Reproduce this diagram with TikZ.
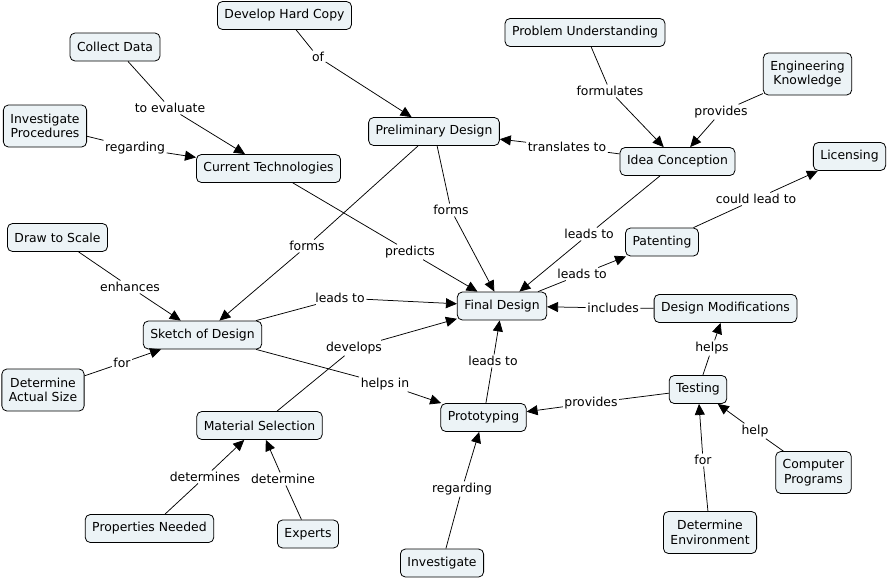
\documentclass[tikz,border=0pt]{standalone}
\usepackage{fontspec}
\setmainfont{DejaVu Sans}
\usetikzlibrary{arrows.meta}
\definecolor{boxfill}{RGB}{236,243,246}
\begin{document}
\begin{tikzpicture}[x=1pt,y=-1pt,
  concept/.style={draw=black, line width=0.8pt, fill=boxfill, rounded corners=5pt,
    inner xsep=7pt, inner ysep=2pt, minimum height=28pt, align=center,
    font=\fontsize{12.4}{14.5}\selectfont},
  twoline/.style={minimum height=42pt},
  lbl/.style={inner sep=1.5pt, font=\fontsize{12.4}{14.5}\selectfont},
  link/.style={draw=black, line width=0.75pt},
  arr/.style={link, -{Triangle[length=11pt,width=10pt]}}]
\useasboundingbox (0,0) rectangle (888,579);

% concepts
\node[concept] (dhc) at (284.5,15.5) {Develop Hard Copy};
\node[concept] (cd) at (115,47) {Collect Data};
\node[concept,twoline] (ip) at (45,126) {Investigate\\Procedures};
\node[concept] (ct) at (268.5,168.5) {Current Technologies};
\node[concept] (pd) at (434,131.5) {Preliminary Design};
\node[concept] (pu) at (585,32.5) {Problem Understanding};
\node[concept,twoline] (ek) at (807.5,74) {Engineering\\Knowledge};
\node[concept] (ic) at (677.5,161.5) {Idea Conception};
\node[concept] (lic) at (849.5,156.5) {Licensing};
\node[concept] (pat) at (662,242) {Patenting};
\node[concept] (fd) at (502,306) {Final Design};
\node[concept] (dm) at (725.5,308.5) {Design Modifications};
\node[concept] (test) at (698,389.5) {Testing};
\node[concept] (proto) at (483.5,417.5) {Prototyping};
\node[concept] (inv) at (442,563) {Investigate};
\node[concept,twoline] (cp) at (813.5,472.5) {Computer\\Programs};
\node[concept,twoline] (de) at (710,532.5) {Determine\\Environment};
\node[concept] (ms) at (259.5,425.5) {Material Selection};
\node[concept] (pn) at (149.5,528.5) {Properties Needed};
\node[concept] (exp) at (308,534) {Experts};
\node[concept] (dts) at (57.5,237.5) {Draw to Scale};
\node[concept] (sod) at (202.5,335) {Sketch of Design};
\node[concept,twoline] (das) at (43,390) {Determine\\Actual Size};

% linking phrases
\node[lbl] (l1) at (318,57) {of};
\node[lbl] (l2) at (170,108) {to evaluate};
\node[lbl] (l3) at (135,148) {regarding};
\node[lbl] (l4) at (610,91) {formulates};
\node[lbl] (l5) at (721,112) {provides};
\node[lbl] (l6) at (567,147) {translates to};
\node[lbl] (l7) at (756,199) {could lead to};
\node[lbl] (l8) at (589,234) {leads to};
\node[lbl] (l9) at (582,274) {leads to};
\node[lbl] (l10) at (451,210) {forms};
\node[lbl] (l11) at (307,246) {forms};
\node[lbl] (l12) at (410,252) {predicts};
\node[lbl] (l13) at (130,287) {enhances};
\node[lbl] (l14) at (122,363) {for};
\node[lbl] (l15) at (340,298) {leads to};
\node[lbl] (l16) at (354,348) {develops};
\node[lbl] (l17) at (385,384) {helps in};
\node[lbl] (l18) at (613,308) {includes};
\node[lbl] (l19) at (493,361) {leads to};
\node[lbl] (l20) at (591,403) {provides};
\node[lbl] (l21) at (712,348) {helps};
\node[lbl] (l22) at (755,431) {help};
\node[lbl] (l23) at (703,460) {for};
\node[lbl] (l24) at (462,489) {regarding};
\node[lbl] (l25) at (205,477) {determines};
\node[lbl] (l26) at (283,479) {determine};

% connectors
\draw[link] (dhc) -- (l1); \draw[arr] (l1) -- (pd);
\draw[link] (cd) -- (l2); \draw[arr] (l2) -- (ct);
\draw[link] (ip) -- (l3); \draw[arr] (l3) -- (ct);
\draw[link] (pu) -- (l4); \draw[arr] (l4) -- (ic);
\draw[link] (ek) -- (l5); \draw[arr] (l5) -- (ic);
\draw[link] (ic) -- (l6); \draw[arr] (l6) -- (pd);
\draw[link] (pat) -- (l7); \draw[arr] (l7) -- (lic);
\draw[link] (ic) -- (l8); \draw[arr] (l8) -- (fd);
\draw[link] (fd) -- (l9); \draw[arr] (l9) -- (pat);
\draw[link] (pd) -- (l10); \draw[arr] (l10) -- (fd);
\draw[link] (pd) -- (l11); \draw[arr] (l11) -- (sod);
\draw[link] (ct) -- (l12); \draw[arr] (l12) -- (fd);
\draw[link] (dts) -- (l13); \draw[arr] (l13) -- (sod);
\draw[link] (das) -- (l14); \draw[arr] (l14) -- (sod);
\draw[link] (sod) -- (l15); \draw[arr] (l15) -- (fd);
\draw[link] (ms) -- (l16); \draw[arr] (l16) -- (fd);
\draw[link] (sod) -- (l17); \draw[arr] (l17) -- (proto);
\draw[link] (dm) -- (l18); \draw[arr] (l18) -- (fd);
\draw[link] (proto) -- (l19); \draw[arr] (l19) -- (fd);
\draw[link] (test) -- (l20); \draw[arr] (l20) -- (proto);
\draw[link] (test) -- (l21); \draw[arr] (l21) -- (dm);
\draw[link] (cp) -- (l22); \draw[arr] (l22) -- (test);
\draw[link] (de) -- (l23); \draw[arr] (l23) -- (test);
\draw[link] (inv) -- (l24); \draw[arr] (l24) -- (proto);
\draw[link] (pn) -- (l25); \draw[arr] (l25) -- (ms);
\draw[link] (exp) -- (l26); \draw[arr] (l26) -- (ms);
\end{tikzpicture}
\end{document}
